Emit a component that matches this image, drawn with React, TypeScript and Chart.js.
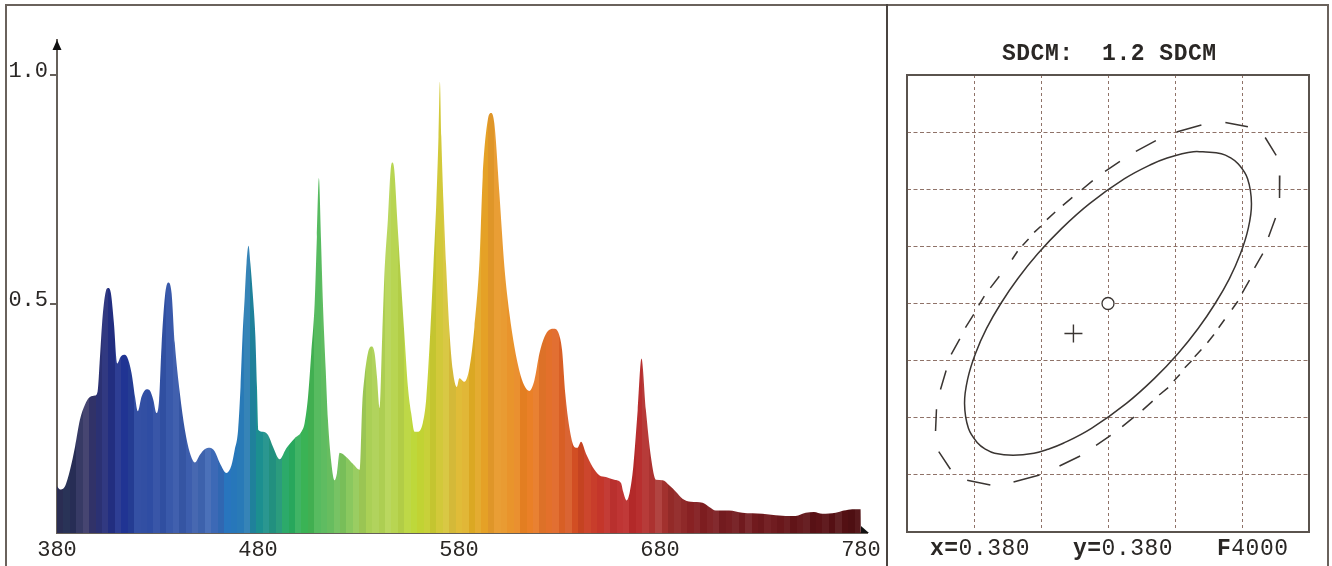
import React, { useEffect, useRef } from "react";
import { Chart, registerables } from "chart.js";

Chart.register(...registerables);

// Spectrum (wavelength in nm, relative intensity)
const wavelengths = [
  380, 381.5, 384, 386.5, 389, 391.4, 393.9, 396.4, 398.9, 400.2, 401.4, 402.7, 404.3, 405.5, 406.8, 408.3, 410, 411.6, 413.3, 414.9,
  417.1, 418.8, 420.2, 422.1, 424.6, 426.2, 427.9, 429.5, 430.8, 432, 433.7, 435.3, 437, 438.6, 441.1, 443.6, 446.1, 448.6, 451.1, 453.5,
  456, 458.5, 461, 464.3, 466.8, 468.4, 470.1, 471.3, 472.3, 473.4, 474.3, 475.3, 476.2, 477.5, 478.7, 479.5, 480.2, 482.5, 485, 487.5,
  490.8, 494.1, 498.3, 501.6, 503.2, 504.9, 506.5, 508.2, 509.3, 510.3, 511.3, 512.3, 513.7, 514.8, 516.5, 518.1, 519.3, 520.6, 523.9, 527.2,
  530.6, 531.9, 533, 534.7, 536.4, 538, 539.2, 540.5, 541.8, 543, 544.6, 546, 546.8, 547.8, 549.3, 551.3, 552.9, 554.6, 556.2, 557.9,
  559.5, 562, 563.7, 565.7, 567.3, 568.7, 569.8, 570.5, 571.2, 572.3, 573.6, 575.3, 576.9, 578.9, 580.2, 582.7, 585.2, 587.7, 590.2, 591.8,
  594.3, 596, 597.6, 600.1, 602.6, 605.1, 607.6, 610, 612.5, 615, 617.5, 620, 622.5, 625, 627.4, 629.9, 631.3, 632.9, 634.9, 637.4,
  639, 640.7, 643.2, 646.5, 649.8, 653.1, 657.3, 660.6, 661.7, 663.4, 665, 666.7, 668.9, 670.8, 673, 675.5, 678, 681.3, 684.6, 687.9,
  691.2, 695.4, 701.2, 704.5, 707.8, 714.4, 721, 731, 737.6, 747.5, 752.5, 756.6, 760.8, 767.4, 771.5, 775.7, 779.8, 780,
];
const intensity = [
  0.102, 0.095, 0.102, 0.138, 0.189, 0.247, 0.28, 0.297, 0.3, 0.309, 0.386, 0.473, 0.528, 0.535, 0.524, 0.459, 0.37, 0.384, 0.389, 0.384,
  0.349, 0.298, 0.266, 0.298, 0.314, 0.311, 0.291, 0.262, 0.291, 0.408, 0.517, 0.547, 0.524, 0.415, 0.306, 0.226, 0.175, 0.154, 0.171, 0.183,
  0.186, 0.178, 0.153, 0.131, 0.148, 0.181, 0.225, 0.319, 0.429, 0.516, 0.589, 0.627, 0.589, 0.516, 0.429, 0.319, 0.225, 0.221, 0.214, 0.188,
  0.161, 0.185, 0.207, 0.221, 0.24, 0.298, 0.393, 0.502, 0.647, 0.775, 0.647, 0.502, 0.356, 0.247, 0.153, 0.115, 0.131, 0.175, 0.166, 0.151,
  0.138, 0.284, 0.341, 0.393, 0.407, 0.393, 0.341, 0.273, 0.429, 0.574, 0.683, 0.793, 0.809, 0.793, 0.683, 0.538, 0.429, 0.319, 0.262, 0.221,
  0.221, 0.24, 0.293, 0.438, 0.584, 0.72, 0.865, 0.985, 0.865, 0.72, 0.584, 0.438, 0.356, 0.319, 0.338, 0.33, 0.36, 0.45, 0.595, 0.777,
  0.901, 0.917, 0.894, 0.741, 0.581, 0.479, 0.406, 0.355, 0.322, 0.31, 0.333, 0.392, 0.428, 0.444, 0.446, 0.432, 0.399, 0.304, 0.231, 0.188,
  0.186, 0.199, 0.173, 0.144, 0.126, 0.122, 0.116, 0.109, 0.09, 0.071, 0.09, 0.144, 0.268, 0.381, 0.268, 0.166, 0.116, 0.115, 0.104, 0.09,
  0.075, 0.068, 0.066, 0.057, 0.049, 0.049, 0.044, 0.042, 0.039, 0.037, 0.044, 0.046, 0.042, 0.044, 0.049, 0.052, 0.052, 0,
];
const wavelengthTicks = [380, 480, 580, 680, 780];
const intensityTicks = [0.5, 1.0];

// Colour anchors along the spectrum
const colorNm = [380, 385, 395, 400, 412, 420, 440, 450, 460, 465, 475, 480, 490, 493, 505, 514, 525, 534, 548, 558, 566, 578, 588, 596, 604, 614, 622, 632, 639, 646, 656, 666, 679, 687, 697, 717, 733, 753, 766, 780];
const colorHex = [
  "#2f2f55", "#1f2a50", "#3c3a6a", "#2a2f6f", "#1d2f90", "#2c49a0", "#3556a9", "#3f62ae", "#3c6ab8", "#1e6fbb", "#2f80b4", "#138a8e", "#2a9a80",
  "#1fa563", "#3fb552", "#60bb60", "#84c65a", "#a8cf55", "#b8d552", "#bdd735", "#c8cc30", "#dfc03c", "#e0a81f", "#e89c2b", "#e9982f", "#ea7d1f",
  "#e6752a", "#dc5f25", "#cf4a22", "#c83a25", "#bf3230", "#bb2a2a", "#ac3633", "#952a28", "#851f22", "#731b1f", "#70191d", "#5e1216", "#561014", "#4f0f12",
];
const stripeShade = [0, 0.04, -0.03, 0.03, 0.06, -0.04, 0.01, 0.05, -0.02, 0.07, 0, -0.04, 0.04, 0.02];

// Chromaticity plot
const gridX = [0.365, 0.37, 0.375, 0.38, 0.385, 0.39, 0.395];
const gridY = [0.36, 0.365, 0.37, 0.375, 0.38, 0.385, 0.39, 0.395, 0.4];
const solidX = [
  0.387083, 0.388459, 0.389136, 0.389709, 0.390416, 0.390706, 0.390461, 0.389888, 0.389062, 0.387998, 0.386726, 0.38523, 0.383467, 0.381376,
  0.378765, 0.376659, 0.375521, 0.374472, 0.372917, 0.371541, 0.370864, 0.370291, 0.369584, 0.369294, 0.369539, 0.370112, 0.370938, 0.372002,
  0.373274, 0.37477, 0.376533, 0.378624, 0.381235, 0.383341, 0.384479, 0.385528, 0.386376, 0.387083,
];
const solidY = [
  0.393285, 0.39311, 0.39276, 0.392236, 0.390925, 0.38874, 0.386555, 0.38437, 0.382185, 0.38, 0.377815, 0.37563, 0.373445, 0.37126,
  0.369075, 0.367764, 0.36724, 0.36689, 0.366715, 0.36689, 0.36724, 0.367764, 0.369075, 0.37126, 0.373445, 0.37563, 0.377815, 0.38,
  0.382185, 0.38437, 0.386555, 0.38874, 0.390925, 0.392236, 0.39276, 0.39311, 0.393285, 0.393285,
];
const dashX = [
  0.38511, 0.38697, null, 0.38876, 0.39044, null, 0.39173, 0.39255, null, 0.39282, 0.3928, null, 0.3925, 0.39198, null, 0.39155, 0.39094, null,
  0.39056, 0.39002, null, 0.38969, 0.38925, null, 0.3887, 0.38826, null, 0.38791, 0.38742, null, 0.38697, 0.38647, null, 0.38623, 0.38573, null,
  0.38536, 0.38491, null, 0.38449, 0.38382, null, 0.38333, 0.38258, null, 0.38193, 0.38106, null, 0.3802, 0.37911, null, 0.37792, 0.37638, null,
  0.37489, 0.37295, null, 0.37122, 0.36949, null, 0.36824, 0.36737, null, 0.36713, 0.3672, null, 0.3675, 0.36792, null, 0.3683, 0.36894, null,
  0.36936, 0.36998, null, 0.37035, 0.37077, null, 0.37122, 0.37189, null, 0.37284, 0.37325, null, 0.37362, 0.37407, null, 0.37449, 0.37499, null,
  0.37544, 0.37606, null, 0.37663, 0.37734, null, 0.37804, 0.37886, null, 0.37978, 0.38089, null, 0.38208, 0.38357,
];
const dashY = [
  0.39501, 0.39562, null, 0.39585, 0.39547, null, 0.39453, 0.39296, null, 0.39121, 0.38924, null, 0.38749, 0.38583, null, 0.38437, 0.38312, null,
  0.38204, 0.38094, null, 0.3802, 0.37948, null, 0.3786, 0.37788, null, 0.37729, 0.37657, null, 0.37598, 0.37534, null, 0.37496, 0.37438, null,
  0.37379, 0.37321, null, 0.37263, 0.37199, null, 0.37146, 0.37067, null, 0.37006, 0.36922, null, 0.36846, 0.36759, null, 0.36665, 0.36578, null,
  0.36499, 0.36438, null, 0.36412, 0.36453, null, 0.36549, 0.36704, null, 0.36884, 0.37074, null, 0.37248, 0.37414, null, 0.37554, 0.37691, null,
  0.37788, 0.37904, null, 0.37983, 0.38064, null, 0.38137, 0.38239, null, 0.38385, 0.38457, null, 0.38507, 0.38565, null, 0.38623, 0.38676, null,
  0.38734, 0.38801, null, 0.38859, 0.38929, null, 0.38996, 0.39075, null, 0.39156, 0.39244, null, 0.39331, 0.39425,
];
const targetPoint = { x: 0.38, y: 0.38 };
const measuredPoint = { x: 0.37742, y: 0.37738 };
const panelTitle = "SDCM:  1.2 SDCM";
const footerBold = ["x=", "y=", "F"];
const footerPlain = ["0.380", "0.380", "4000"];
const footerPositions = [930, 1073, 1217];

const MONO = '"Liberation Mono", monospace';
const INK = "#2a2725";
const AXIS = "#66605a";
const GRID = "#8f7268";

function hexToRgb(hex: string) {
  return [1, 3, 5].map((i) => parseInt(hex.slice(i, i + 2), 16));
}

function stripeColor(nm: number, shade: number) {
  let i = 0;
  while (i < colorNm.length - 2 && colorNm[i + 1] < nm) i++;
  const t = Math.min(1, (nm - colorNm[i]) / (colorNm[i + 1] - colorNm[i]));
  const a = hexToRgb(colorHex[i]);
  const b = hexToRgb(colorHex[i + 1]);
  const rgb = a.map((v, k) => {
    const c = v + (b[k] - v) * t;
    return Math.round(shade >= 0 ? c + (255 - c) * shade : c * (1 + shade));
  });
  return `rgb(${rgb[0]},${rgb[1]},${rgb[2]})`;
}

function spectrumFill(context: any) {
  const chart = context.chart;
  if (!chart.chartArea) return "#888";
  const scale = chart.scales.x;
  const x0 = scale.getPixelForValue(380);
  const x1 = scale.getPixelForValue(780);
  const g = chart.ctx.createLinearGradient(x0, 0, x1, 0);
  const band = 3.2;
  const count = Math.ceil(400 / band);
  for (let i = 0; i < count; i++) {
    const c = stripeColor(380 + i * band + band / 2, stripeShade[i % stripeShade.length]);
    g.addColorStop(Math.min(1, (i * band) / 400), c);
    g.addColorStop(Math.min(1, ((i + 1) * band) / 400), c);
  }
  return g;
}

const arrowPlugin = {
  id: "axisArrows",
  afterDraw(chart: any) {
    const { ctx, chartArea: a } = chart;
    ctx.save();
    ctx.fillStyle = "#111";
    ctx.beginPath();
    ctx.moveTo(a.left, a.top);
    ctx.lineTo(a.left - 4.5, a.top + 10);
    ctx.lineTo(a.left + 4.5, a.top + 10);
    ctx.closePath();
    ctx.fill();
    ctx.beginPath();
    ctx.moveTo(a.right + 2, a.bottom);
    ctx.lineTo(a.right - 6, a.bottom - 7);
    ctx.lineTo(a.right - 6, a.bottom);
    ctx.closePath();
    ctx.fill();
    ctx.restore();
  },
};

const panelPlugin = {
  id: "panelDecor",
  afterDraw(chart: any) {
    const { ctx, chartArea: a } = chart;
    const left = chart.canvas.getBoundingClientRect().left;
    ctx.save();
    ctx.strokeStyle = "#5a534e";
    ctx.lineWidth = 2;
    ctx.strokeRect(a.left, a.top, a.right - a.left, a.bottom - a.top);
    ctx.textBaseline = "middle";
    ctx.textAlign = "left";
    ctx.fillStyle = INK;
    ctx.letterSpacing = "0.5px";
    ctx.font = `bold 23px ${MONO}`;
    ctx.fillText(panelTitle, 1002 - left, 54);
    footerBold.forEach((prefix, i) => {
      let x = footerPositions[i] - left;
      ctx.font = `bold 23px ${MONO}`;
      ctx.fillText(prefix, x, 549);
      x += ctx.measureText(prefix).width;
      ctx.font = `23px ${MONO}`;
      ctx.fillText(footerPlain[i], x, 549);
    });
    ctx.restore();
  },
};

export default function App() {
  const leftRef = useRef<HTMLCanvasElement>(null);
  const rightRef = useRef<HTMLCanvasElement>(null);

  useEffect(() => {
    const spectrum = new Chart(leftRef.current!, {
      type: "line",
      data: {
        datasets: [
          {
            data: wavelengths.map((x, i) => ({ x, y: intensity[i] })),
            fill: "origin",
            backgroundColor: spectrumFill,
            borderWidth: 0,
            borderColor: "transparent",
            pointRadius: 0,
            cubicInterpolationMode: "monotone",
          },
        ],
      },
      options: {
        responsive: false,
        animation: false,
        devicePixelRatio: 1,
        layout: { padding: { top: 40, right: 19, left: 0, bottom: 0 } },
        plugins: { legend: { display: false }, tooltip: { enabled: false } },
        scales: {
          x: {
            type: "linear",
            min: 380,
            max: 783,
            afterFit: (s: any) => { s.height = 33; },
            afterBuildTicks: (s: any) => { s.ticks = wavelengthTicks.map((value) => ({ value })); },
            grid: { drawOnChartArea: false, drawTicks: false },
            border: { color: AXIS, width: 2 },
            ticks: {
              autoSkip: false,
              maxRotation: 0,
              padding: 4,
              color: INK,
              font: { family: MONO, size: 22 },
              callback: (v: any) => String(v),
            },
          },
          y: {
            type: "linear",
            min: 0,
            max: 1.0764,
            afterFit: (s: any) => { s.width = 57; },
            afterBuildTicks: (s: any) => { s.ticks = intensityTicks.map((value) => ({ value })); },
            grid: { drawOnChartArea: false, drawTicks: true, tickLength: 7, color: AXIS, lineWidth: 2 },
            border: { color: AXIS, width: 2 },
            ticks: {
              padding: 2,
              color: INK,
              font: { family: MONO, size: 22, lineHeight: 0.36 },
              callback: (v: any) => [Number(v).toFixed(1), ""],
            },
          },
        },
      },
      plugins: [arrowPlugin],
    } as any);

    const ellipse = new Chart(rightRef.current!, {
      type: "scatter",
      data: {
        datasets: [
          {
            data: solidX.map((x, i) => ({ x, y: solidY[i] })),
            showLine: true,
            borderColor: "#3a3532",
            borderWidth: 1.5,
            pointRadius: 0,
            tension: 0.4,
          },
          {
            data: dashX.map((x, i) => ({ x, y: dashY[i] })),
            showLine: true,
            spanGaps: false,
            borderColor: "#3a3532",
            borderWidth: 1.5,
            pointRadius: 0,
            tension: 0,
          },
          {
            data: [targetPoint],
            pointStyle: "circle",
            pointRadius: 6,
            backgroundColor: "#fff",
            borderColor: "#3a3532",
            borderWidth: 1.3,
          },
          {
            data: [measuredPoint],
            pointStyle: "cross",
            pointRadius: 9,
            borderColor: "#3a3532",
            borderWidth: 1.4,
          },
        ],
      },
      options: {
        responsive: false,
        animation: false,
        devicePixelRatio: 1,
        layout: { padding: { left: 0, right: 23, top: 75, bottom: 0 } },
        plugins: { legend: { display: false }, tooltip: { enabled: false } },
        scales: {
          x: {
            type: "linear",
            min: gridX[0],
            max: gridX[gridX.length - 1],
            afterFit: (s: any) => { s.height = 34; },
            afterBuildTicks: (s: any) => { s.ticks = gridX.map((value) => ({ value })); },
            grid: { drawTicks: false, color: GRID, lineWidth: 1 },
            border: { display: false, dash: [3, 3] },
            ticks: { display: false },
          },
          y: {
            type: "linear",
            min: gridY[0],
            max: gridY[gridY.length - 1],
            afterFit: (s: any) => { s.width = 19; },
            afterBuildTicks: (s: any) => { s.ticks = gridY.map((value) => ({ value })); },
            grid: { drawTicks: false, color: GRID, lineWidth: 1 },
            border: { display: false, dash: [4, 2.5] },
            ticks: { display: false },
          },
        },
      },
      plugins: [panelPlugin],
    } as any);

    return () => {
      spectrum.destroy();
      ellipse.destroy();
    };
  }, []);

  return (
    <div style={{ position: "absolute", left: 0, top: 0, width: 1332, height: 566, overflow: "hidden", background: "#fff" }}>
      <div
        style={{
          position: "absolute",
          left: 5,
          top: 4,
          width: 1320,
          height: 562,
          boxSizing: "content-box",
          borderTop: "2px solid #6a625c",
          borderLeft: "2px solid #6a625c",
          borderRight: "2px solid #6a625c",
        }}
      />
      <div style={{ position: "absolute", left: 886, top: 4, width: 2, height: 562, background: "#4a4440" }} />
      <canvas ref={leftRef} width={886} height={566} style={{ position: "absolute", left: 0, top: 0, display: "block" }} />
      <canvas ref={rightRef} width={444} height={566} style={{ position: "absolute", left: 888, top: 0, display: "block" }} />
    </div>
  );
}
